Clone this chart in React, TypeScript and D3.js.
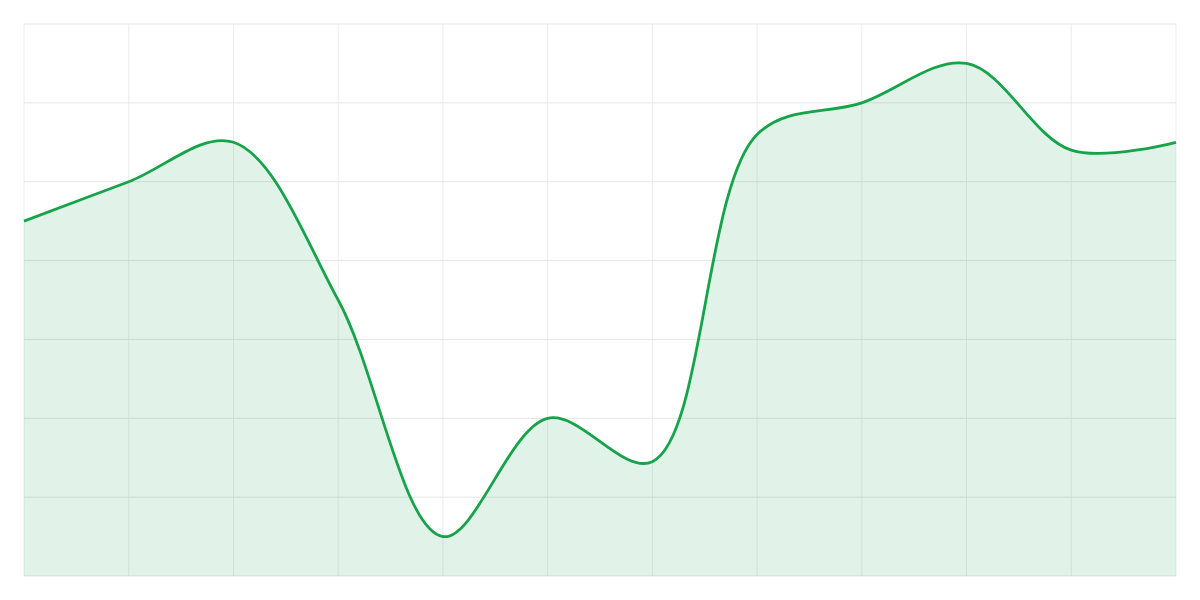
import * as d3 from "d3";
import React from 'react'

// one value per vertical grid line
const labels = ['1', '2', '3', '4', '5', '6', '7', '8', '9', '10', '11', '12']
const values = [45, 50, 55, 35, 5, 20, 14.5, 56, 60, 65, 54, 55]
const yTicks = [0, 10, 20, 30, 40, 50, 60, 70]

const W = 1200, H = 600
const m = { t: 24, r: 24, b: 24, l: 24 }

const App: React.FC = () => {
  const x = d3.scalePoint(labels, [m.l, W - m.r])
  const y = d3.scaleLinear([0, 70], [H - m.b, m.t])

  const curve = d3.curveCatmullRom.alpha(0.5)
  const line = d3.line<number>((_, i) => x(labels[i])!, d => y(d)).curve(curve)
  const area = d3.area<number>((_, i) => x(labels[i])!, y(0), d => y(d)).curve(curve)

  return (
    <svg style={{ position: 'absolute', left: 0, top: 0 }} width={W} height={H}>
      {labels.map(l => <line key={'v' + l} x1={x(l)} x2={x(l)} y1={m.t} y2={H - m.b} stroke="#ececec" strokeWidth={1} />)}
      {yTicks.map(t => <line key={'h' + t} x1={m.l} x2={W - m.r} y1={y(t)} y2={y(t)} stroke="#e5e5e5" strokeWidth={1} />)}
      <path d={area(values) ?? ''} fill="#16a34a" fillOpacity={0.13} />
      <path d={line(values) ?? ''} fill="none" stroke="#16a34a" strokeWidth={2.8} strokeLinejoin="round" />
    </svg>
  )
}

export default App
